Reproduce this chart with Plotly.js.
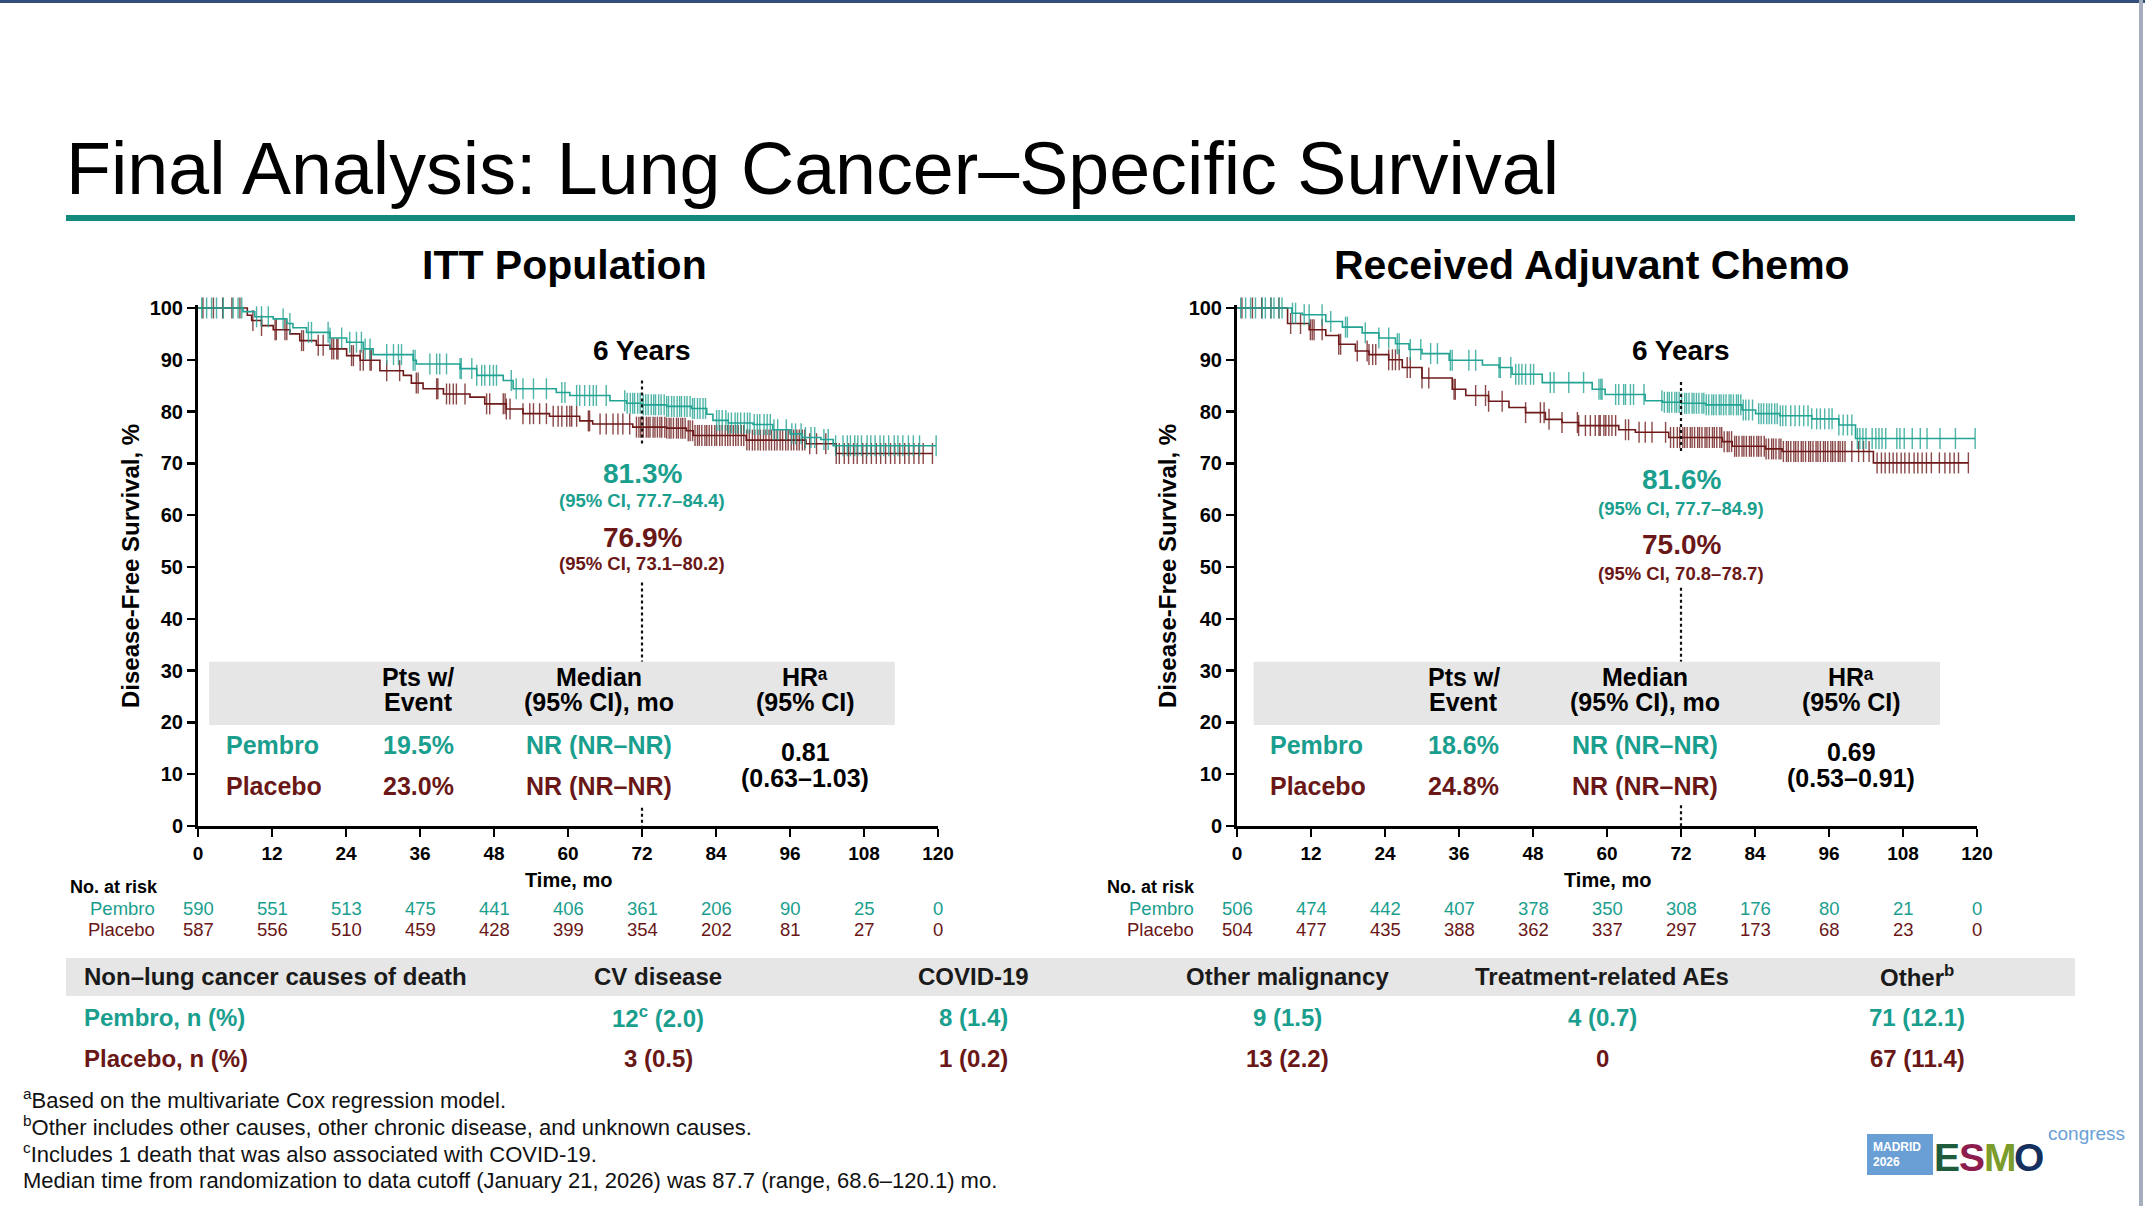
<!DOCTYPE html>
<html>
<head>
<meta charset="utf-8">
<script src="https://cdn.plot.ly/plotly-3.0.1.min.js"></script>
<style>html,body{margin:0;padding:0;background:#fff;}#chart{width:2145px;height:1206px;}</style>
</head>
<body>
<div id="chart"></div>
<script>
// ---------------- DATA ----------------
const tickMonths = [0,12,24,36,48,60,72,84,96,108,120];
const yTicks = [0,10,20,30,40,50,60,70,80,90,100];

// ITT population – Kaplan-Meier steps (time, survival %)
const ittPembroT = [0,7.3,9.2,12.2,14.4,15.4,17.6,21.4,24.1,26.8,28.4,34.9,35.4,42.5,45.2,49.5,51.1,58.1,60.3,66.8,69.5,72.0,76.0,80.0,82.5,83.5,86.0,90.0,93.2,96.0,98.0,101.0,103.0];
const ittPembroS = [100,99.3,98.3,97.9,97.0,96.2,95.3,94.2,93.4,92.1,91.0,89.9,89.2,88.3,87.0,86.0,84.4,83.7,83.1,82.1,81.6,81.3,81.0,80.6,79.5,78.3,77.8,77.5,76.5,75.7,75.0,74.6,73.4];
const ittPembroEnd = 119.7;
const ittPlaceboT = [0,8.0,8.7,10.3,12.2,14.9,16.5,19.2,21.4,24.1,26.3,29.5,33.3,34.6,36.5,39.8,44.1,46.5,50.0,52.7,57.0,61.9,64.0,70.5,76.0,79.2,80.3,88.9,98.6,103.5];
const ittPlaceboS = [100,98.6,97.6,96.6,95.8,95.0,93.7,92.8,92.1,90.8,89.9,87.9,87.0,85.5,84.4,83.4,82.8,81.5,80.5,79.6,79.1,78.2,77.6,77.0,76.8,76.3,75.4,74.5,73.8,71.9];
const ittPlaceboEnd = 119.1;

const ittPembroCens = [0.6,1.4,2.2,3.0,4.1,5.7,6.5,7.1,9.5,10.3,11.4,13.8,14.9,17.9,18.4,21.1,21.4,23.3,24.6,25.7,26.5,27.1,27.9,30.6,31.7,32.5,33.0,34.9,35.2,37.6,38.7,39.2,40.3,42.5,42.7,44.4,45.2,46.0,46.5,47.3,47.9,48.4,50.8,51.6,52.7,54.4,56.5,59.0,59.5,61.4,61.9,62.7,63.5,64.1,64.6,66.2,
 69.2,69.6,70.1,70.5,70.8,71.3,71.7,72.2,72.6,73.0,73.5,73.9,74.2,74.7,75.1,75.6,76.0,76.3,76.8,77.2,77.7,78.1,78.4,78.9,79.3,79.8,80.2,80.5,81.0,81.4,81.9,82.3,
 84.1,84.5,85.0,85.6,86.0,86.5,87.1,87.5,88.0,88.6,89.1,89.5,90.2,90.7,91.1,91.8,92.3,92.8,93.4,94.0,95.4,96.3,96.9,97.8,98.5,99.4,100.0,101.5,102.2,103.4,
 104.6,105.3,105.8,106.5,107.0,107.6,108.5,109.1,109.8,110.6,111.2,112.0,112.9,113.5,114.3,115.2,116.0,117.0,119.7];
const ittPlaceboCens = [0.8,2.5,4.0,5.5,6.8,8.9,10.3,12.5,12.7,14.1,14.4,16.8,17.1,19.5,20.3,21.7,22.0,22.5,22.7,24.9,25.2,26.3,26.8,27.9,28.1,30.6,32.7,35.4,35.7,38.7,38.9,40.3,40.8,41.4,41.9,43.3,46.8,47.3,49.5,49.8,50.0,50.6,52.7,53.8,54.4,55.4,56.5,57.6,58.4,59.0,59.8,60.3,60.6,61.4,63.3,63.5,65.2,66.2,67.3,68.1,68.9,70.0,
 71.1,71.5,71.8,72.2,72.7,73.0,73.3,73.8,74.1,74.5,74.9,75.2,75.7,76.0,76.4,76.7,77.1,77.6,77.9,78.3,78.6,79.0,79.5,79.8,80.2,80.6,81.0,81.3,81.7,82.2,82.5,82.9,83.3,83.8,84.1,84.6,85.0,85.5,85.9,86.3,86.8,87.2,87.6,88.1,88.5,89.0,89.4,89.9,90.3,90.8,91.2,91.7,92.1,92.6,93.0,93.5,93.9,94.4,94.8,95.3,95.7,96.2,96.6,97.1,97.5,98.0,98.4,99.2,100.3,101.8,103.5,
 104.0,104.8,105.5,106.3,106.9,107.8,108.4,109.2,110.0,110.7,111.5,112.3,113.0,113.8,114.6,115.3,116.1,116.9,117.6,119.1];

// Received adjuvant chemo – Kaplan-Meier steps
const chemoPembroT = [0,8.9,10.6,14.4,17.1,20.3,23.0,25.7,27.9,30.0,34.4,39.8,42.5,44.6,49.5,57.6,59.7,66.2,69.0,72.0,76.0,81.9,84.1,88.0,93.2,97.6,100.3];
const chemoPembroS = [100,99.0,98.7,97.4,96.3,95.2,94.2,93.1,92.0,91.2,89.9,89.0,88.5,87.2,85.6,84.3,83.3,82.1,81.8,81.6,81.3,80.3,79.6,79.2,78.6,77.4,74.8];
const chemoPembroEnd = 119.7;
const chemoPlaceboT = [0,8.2,11.7,14.4,16.5,19.2,21.4,24.6,26.8,30.0,34.9,37.1,40.8,44.1,46.8,50.0,52.7,55.4,61.9,64.6,70.0,78.7,80.3,85.7,88.4,103.2];
const chemoPlaceboS = [100,97.0,95.8,94.7,93.0,91.7,91.0,90.0,88.5,86.5,84.3,83.1,82.0,80.8,79.8,78.5,77.9,77.3,76.5,76.0,75.0,74.2,73.3,72.8,72.3,70.1];
const chemoPlaceboEnd = 118.6;

const chemoPembroCens = [0.6,1.4,2.2,3.0,4.1,4.6,5.5,6.0,6.8,7.3,9.0,9.5,10.9,11.7,13.8,15.2,17.6,17.9,20.8,23.0,24.6,26.0,26.3,28.1,29.8,31.4,32.5,34.6,34.9,37.6,38.7,42.5,42.7,44.4,45.2,45.7,46.2,46.8,47.6,48.1,50.8,51.4,53.8,56.2,58.7,59.0,59.2,61.4,61.9,62.7,63.0,63.8,64.3,66.0,
 68.9,69.3,69.8,70.1,70.5,71.0,71.3,71.7,72.1,72.6,72.9,73.3,73.8,74.1,74.5,74.9,75.4,75.7,76.1,76.5,77.0,77.3,77.7,78.2,78.5,78.9,79.3,79.8,80.1,80.5,81.0,81.3,81.7,82.1,82.5,
 83.0,83.6,84.6,85.0,85.4,85.9,86.3,86.7,87.2,87.6,88.1,88.5,89.0,89.8,90.5,91.2,91.9,92.6,93.2,94.0,94.6,95.3,96.0,96.5,97.6,98.3,99.0,99.7,
 100.6,101.0,101.5,102.0,103.0,103.6,104.1,104.6,105.2,107.0,107.5,108.2,109.5,110.8,111.9,114.0,116.5,119.7];
const chemoPlaceboCens = [0.8,2.5,4.0,5.5,6.8,8.7,10.3,11.9,12.2,12.5,13.8,16.5,16.8,19.5,21.1,21.4,22.0,22.5,24.6,25.2,25.7,26.3,27.6,28.1,30.0,31.1,35.2,35.4,38.7,40.3,40.8,43.0,46.8,49.2,49.8,50.6,52.7,55.2,55.4,56.5,57.3,58.1,58.7,58.9,59.5,59.8,60.3,60.8,61.4,63.0,63.5,65.2,66.2,67.3,69.5,70.3,70.8,
 71.4,71.8,72.3,72.6,73.0,73.5,73.8,74.2,74.7,75.0,75.4,75.9,76.2,76.6,77.1,77.4,77.8,78.3,78.6,79.0,79.5,79.8,80.2,80.7,81.0,81.4,81.9,82.2,82.6,83.1,83.4,83.8,84.3,84.6,85.0,85.5,85.8,86.2,86.7,87.0,87.4,87.9,88.2,88.6,89.1,89.4,89.8,90.3,90.6,91.0,91.5,91.8,92.2,92.7,93.0,93.4,93.9,94.2,94.6,95.1,95.4,95.8,96.3,96.6,97.0,97.5,97.8,98.2,98.6,
 99.7,100.8,101.6,102.5,103.8,104.5,105.1,105.8,106.4,107.0,107.7,108.3,109.0,109.8,110.4,111.1,111.8,112.6,113.9,114.8,115.6,116.3,117.0,118.6];

// numbers at risk
const ittRiskPembro  = [590,551,513,475,441,406,361,206,90,25,0];
const ittRiskPlacebo = [587,556,510,459,428,399,354,202,81,27,0];
const chemoRiskPembro  = [506,474,442,407,378,350,308,176,80,21,0];
const chemoRiskPlacebo = [504,477,435,388,362,337,297,173,68,23,0];

// 6-year estimates
const ittSixYear   = {pembro:'81.3%', pembroCI:'(95% CI, 77.7–84.4)', placebo:'76.9%', placeboCI:'(95% CI, 73.1–80.2)'};
const chemoSixYear = {pembro:'81.6%', pembroCI:'(95% CI, 77.7–84.9)', placebo:'75.0%', placeboCI:'(95% CI, 70.8–78.7)'};

// inner tables
const tableHeaders = [['Pts w/','Event'],['Median','(95% CI), mo'],['HRᵃ','(95% CI)']];
const ittEvents   = ['19.5%','23.0%'];
const chemoEvents = ['18.6%','24.8%'];
const medians = ['NR (NR–NR)','NR (NR–NR)'];
const ittHR   = ['0.81','(0.63–1.03)'];
const chemoHR = ['0.69','(0.53–0.91)'];

// causes of death table
const causeHeaders = ['CV disease','COVID-19','Other malignancy','Treatment-related AEs','Other<sup>b</sup>'];
const pembroDeaths  = ['12<sup>c</sup> (2.0)','8 (1.4)','9 (1.5)','4 (0.7)','71 (12.1)'];
const placeboDeaths = ['3 (0.5)','1 (0.2)','13 (2.2)','0','67 (11.4)'];

const footnotes = [
 '<sup>a</sup>Based on the multivariate Cox regression model.',
 '<sup>b</sup>Other includes other causes, other chronic disease, and unknown causes.',
 '<sup>c</sup>Includes 1 death that was also associated with COVID-19.',
 'Median time from randomization to data cutoff (January 21, 2026) was 87.7 (range, 68.6–120.1) mo.'
];

// ---------------- STYLE ----------------
const FONT = 'Liberation Sans, Arial, Helvetica, sans-serif';
const TEAL = '#1a9e8e';
const TEAL_LINE = '#22a393';
const RED = '#6a1717';
const RED_LINE = '#6e1a1a';
const W = 2145, H = 1206;
const px = v => v / W;
const py = v => 1 - v / H;

function survAt(ts, ss, t) {
  let v = ss[0];
  for (let i = 0; i < ts.length; i++) { if (ts[i] <= t) v = ss[i]; else break; }
  return v;
}

const traces = [];
function addCurve(ts, ss, end, cens, color, xa, ya) {
  traces.push({
    x: ts.concat([end]), y: ss.concat([ss[ss.length - 1]]),
    xaxis: xa, yaxis: ya, mode: 'lines', line: {shape: 'hv', color: color, width: 1.6},
    hoverinfo: 'skip', showlegend: false
  });
  traces.push({
    x: cens, y: cens.map(t => survAt(ts, ss, t)),
    xaxis: xa, yaxis: ya, mode: 'markers', cliponaxis: false,
    marker: {symbol: 'line-ns', size: 15, color: color, opacity: 0.8, line: {color: color, width: 1.4}},
    hoverinfo: 'skip', showlegend: false
  });
}
addCurve(ittPlaceboT, ittPlaceboS, ittPlaceboEnd, ittPlaceboCens, RED_LINE, 'x', 'y');
addCurve(ittPembroT, ittPembroS, ittPembroEnd, ittPembroCens, TEAL_LINE, 'x', 'y');
addCurve(chemoPlaceboT, chemoPlaceboS, chemoPlaceboEnd, chemoPlaceboCens, RED_LINE, 'x2', 'y2');
addCurve(chemoPembroT, chemoPembroS, chemoPembroEnd, chemoPembroCens, TEAL_LINE, 'x2', 'y2');

const ann = [];
function A(o) {
  ann.push(Object.assign({showarrow: false, xanchor: 'center', yanchor: 'middle',
    font: {family: FONT, size: 20, color: '#000'}}, o));
}
function font(size, color, weight) { return {family: FONT, size: size, color: color || '#000', weight: weight || 'normal'}; }

// slide title
A({xref: 'paper', yref: 'paper', x: px(64), y: py(168), xanchor: 'left',
   text: 'Final Analysis: Lung Cancer–Specific Survival', font: font(73.6, '#000')});

// panels
const panels = [
  {title: 'ITT Population', xa: 'x', ya: 'y', cx: 564, six: ittSixYear, sixY: [68.1, 62.8, 55.7, 50.7],
   events: ittEvents, hr: ittHR, risk: [ittRiskPembro, ittRiskPlacebo], riskLabelX: 157, noRiskX: 68, ytitleX: 130,
   col: [35.7, 65.0, 98.5], labelX: 4.2, band: [1.8, 113]},
  {title: 'Received Adjuvant Chemo', xa: 'x2', ya: 'y2', cx: 1592, six: chemoSixYear, sixY: [66.8, 61.2, 54.4, 48.8],
   events: chemoEvents, hr: chemoHR, risk: [chemoRiskPembro, chemoRiskPlacebo], riskLabelX: 1196, noRiskX: 1105, ytitleX: 1167,
   col: [36.8, 66.1, 99.6], labelX: 5.1, band: [2.7, 114]}
];

const shapes = [];
panels.forEach(p => {
  A({xref: 'paper', yref: 'paper', x: px(p.cx), y: py(265), text: p.title, font: font(41, '#000', 'bold')});
  // y axis title
  A({xref: 'paper', yref: 'paper', x: px(p.ytitleX), y: py(566), textangle: -90,
     text: 'Disease-Free Survival, %', font: font(24, '#000', 'bold')});
  // x axis title
  A({xref: p.xa, yref: 'paper', x: 60, y: py(880), text: 'Time, mo', font: font(20, '#000', 'bold')});
  // no. at risk
  A({xref: 'paper', yref: 'paper', x: px(p.noRiskX), y: py(887), xanchor: 'left',
     text: 'No. at risk', font: font(18, '#000', 'bold')});
  A({xref: 'paper', yref: 'paper', x: px(p.riskLabelX), y: py(908), xanchor: 'right', text: 'Pembro', font: font(18.5, TEAL)});
  A({xref: 'paper', yref: 'paper', x: px(p.riskLabelX), y: py(929), xanchor: 'right', text: 'Placebo', font: font(18.5, RED)});
  tickMonths.forEach((m, i) => {
    A({xref: p.xa, yref: 'paper', x: m, y: py(908), text: String(p.risk[0][i]), font: font(18.5, TEAL)});
    A({xref: p.xa, yref: 'paper', x: m, y: py(929), text: String(p.risk[1][i]), font: font(18.5, RED)});
  });
  // 6 years
  A({xref: p.xa, yref: p.ya, x: 72, y: 91.8, text: '6 Years', font: font(28, '#000', 'bold')});
  A({xref: p.xa, yref: p.ya, x: 72, y: p.sixY[0], text: p.six.pembro, font: font(28, TEAL, 'bold')});
  A({xref: p.xa, yref: p.ya, x: 72, y: p.sixY[1], text: p.six.pembroCI, font: font(18.5, TEAL, 'bold')});
  A({xref: p.xa, yref: p.ya, x: 72, y: p.sixY[2], text: p.six.placebo, font: font(28, RED, 'bold')});
  A({xref: p.xa, yref: p.ya, x: 72, y: p.sixY[3], text: p.six.placeboCI, font: font(18.5, RED, 'bold')});
  // dotted line at 72 mo
  const segs = p.xa === 'x' ? [[86, 73.5], [47, 31.7], [3.5, 0]] : [[85.7, 72], [46, 31.7], [4, 0]];
  segs.forEach(s => shapes.push({type: 'line', xref: p.xa, yref: p.ya, x0: 72, x1: 72, y0: s[0], y1: s[1],
    line: {color: '#111', width: 2.2, dash: 'dot'}, layer: 'above'}));
  // inner table band
  shapes.push({type: 'rect', xref: p.xa, yref: p.ya, x0: p.band[0], x1: p.band[1], y0: 19.5, y1: 31.7,
    fillcolor: '#e6e6e6', line: {width: 0}, layer: 'above'});
  tableHeaders.forEach((h, i) => {
    A({xref: p.xa, yref: p.ya, x: p.col[i], y: 28.7, text: h[0], font: font(25, '#000', 'bold')});
    A({xref: p.xa, yref: p.ya, x: p.col[i], y: 24.0, text: h[1], font: font(25, '#000', 'bold')});
  });
  A({xref: p.xa, yref: p.ya, x: p.labelX, y: 15.6, xanchor: 'left', text: 'Pembro', font: font(25, TEAL, 'bold')});
  A({xref: p.xa, yref: p.ya, x: p.labelX, y: 7.7, xanchor: 'left', text: 'Placebo', font: font(25, RED, 'bold')});
  A({xref: p.xa, yref: p.ya, x: p.col[0], y: 15.6, text: p.events[0], font: font(25, TEAL, 'bold')});
  A({xref: p.xa, yref: p.ya, x: p.col[0], y: 7.7, text: p.events[1], font: font(25, RED, 'bold')});
  A({xref: p.xa, yref: p.ya, x: p.col[1], y: 15.6, text: medians[0], font: font(25, TEAL, 'bold')});
  A({xref: p.xa, yref: p.ya, x: p.col[1], y: 7.7, text: medians[1], font: font(25, RED, 'bold')});
  A({xref: p.xa, yref: p.ya, x: p.col[2], y: 14.2, text: p.hr[0], font: font(25, '#000', 'bold')});
  A({xref: p.xa, yref: p.ya, x: p.col[2], y: 9.2, text: p.hr[1], font: font(25, '#000', 'bold')});
});

// title underline
shapes.push({type: 'rect', xref: 'paper', yref: 'paper', x0: px(66), x1: px(2075), y0: py(221), y1: py(215),
  fillcolor: '#138a7c', line: {width: 0}});
// slide borders
shapes.push({type: 'rect', xref: 'paper', yref: 'paper', x0: 0, x1: 1, y0: py(3), y1: 1, fillcolor: '#34507a', line: {width: 0}});
shapes.push({type: 'rect', xref: 'paper', yref: 'paper', x0: px(2139), x1: px(2143), y0: 0, y1: 1, fillcolor: '#a4aebd', line: {width: 0}});

// causes of death table
shapes.push({type: 'rect', xref: 'paper', yref: 'paper', x0: px(66), x1: px(2075), y0: py(996), y1: py(958),
  fillcolor: '#e6e6e6', line: {width: 0}});
const causeX = [658, 973, 1287, 1602, 1917];
A({xref: 'paper', yref: 'paper', x: px(82), y: py(976), xanchor: 'left', text: 'Non–lung cancer causes of death', font: font(24, '#1a1a1a', 'bold')});
A({xref: 'paper', yref: 'paper', x: px(82), y: py(1017), xanchor: 'left', text: 'Pembro, n (%)', font: font(24, TEAL, 'bold')});
A({xref: 'paper', yref: 'paper', x: px(82), y: py(1058), xanchor: 'left', text: 'Placebo, n (%)', font: font(24, RED, 'bold')});
causeHeaders.forEach((c, i) => {
  A({xref: 'paper', yref: 'paper', x: px(causeX[i]), y: py(976), text: c, font: font(24, '#1a1a1a', 'bold')});
  A({xref: 'paper', yref: 'paper', x: px(causeX[i]), y: py(1017), text: pembroDeaths[i], font: font(24, TEAL, 'bold')});
  A({xref: 'paper', yref: 'paper', x: px(causeX[i]), y: py(1058), text: placeboDeaths[i], font: font(24, RED, 'bold')});
});

// footnotes
const footY = [1099, 1126, 1153, 1180];
footnotes.forEach((f, i) => A({xref: 'paper', yref: 'paper', x: px(21), y: py(footY[i]), xanchor: 'left',
  text: f, font: font(22, '#111')}));

// logo
shapes.push({type: 'rect', xref: 'paper', yref: 'paper', x0: px(1867), x1: px(1933), y0: py(1175), y1: py(1134),
  fillcolor: '#6a9fd6', line: {width: 0}});
A({xref: 'paper', yref: 'paper', x: px(1871), y: py(1147), xanchor: 'left', text: 'MADRID', font: font(12, '#fff', 'bold')});
A({xref: 'paper', yref: 'paper', x: px(1871), y: py(1162), xanchor: 'left', text: '2026', font: font(12, '#fff', 'bold')});
const esmo = [['E', 1947, '#1f5c3c'], ['S', 1972, '#8c1d4e'], ['M', 2000, '#7b9b2b'], ['O', 2029, '#15305e']];
esmo.forEach(e => A({xref: 'paper', yref: 'paper', x: px(e[1]), y: py(1157), text: e[0],
  font: {family: FONT, size: 39, color: e[2], weight: 'bold'}}));
A({xref: 'paper', yref: 'paper', x: px(2046), y: py(1133), xanchor: 'left', text: 'congress',
  font: {family: FONT, size: 19, color: '#6a9fd6'}});

const axisBase = {
  range: [0, 120], tickvals: tickMonths, ticks: 'outside', ticklen: 8, tickwidth: 2.5, tickcolor: '#000',
  showline: true, linewidth: 3, linecolor: '#000', showgrid: false, zeroline: false, fixedrange: true,
  tickfont: {family: FONT, size: 19, color: '#000', weight: 'bold'}
};
const yBase = {
  range: [0, 100.6], tickvals: yTicks, ticks: 'outside', ticklen: 8, tickwidth: 2.5, tickcolor: '#000',
  showline: true, linewidth: 3, linecolor: '#000', showgrid: false, zeroline: false, fixedrange: true,
  tickfont: {family: FONT, size: 20, color: '#000', weight: 'bold'}
};
const yTop = 826 - 100.6 * 5.18;

const layout = {
  width: W, height: H, margin: {l: 0, r: 0, t: 0, b: 0},
  paper_bgcolor: '#fff', plot_bgcolor: 'rgba(0,0,0,0)', showlegend: false,
  xaxis: Object.assign({}, axisBase, {domain: [198 / W, 938 / W], anchor: 'y'}),
  yaxis: Object.assign({}, yBase, {domain: [1 - 826 / H, 1 - yTop / H], anchor: 'x'}),
  xaxis2: Object.assign({}, axisBase, {domain: [1237 / W, 1977 / W], anchor: 'y2'}),
  yaxis2: Object.assign({}, yBase, {domain: [1 - 826 / H, 1 - yTop / H], anchor: 'x2'}),
  annotations: ann, shapes: shapes
};

Plotly.newPlot('chart', traces, layout, {staticPlot: true, displayModeBar: false});
</script>
</body>
</html>
